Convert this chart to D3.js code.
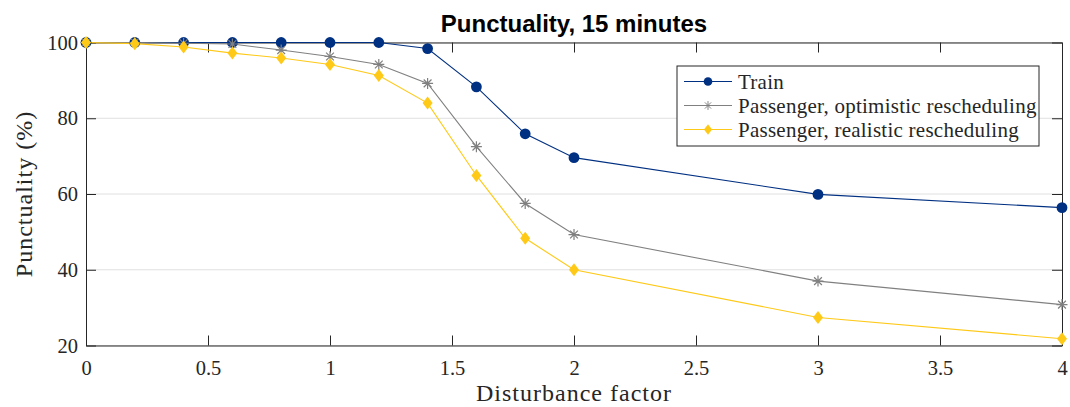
<!DOCTYPE html>
<html>
<head>
<meta charset="utf-8">
<script src="https://cdn.jsdelivr.net/npm/d3@7"></script>
<style>
  body { margin: 0; background: #fff; }
  svg text { fill: #262626; }
</style>
</head>
<body>
<div id="output"></div>
<script>
// Disturbance factors on the x axis
const factors = [0, 0.2, 0.4, 0.6, 0.8, 1.0, 1.2, 1.4, 1.6, 1.8, 2.0, 3.0, 4.0];

// Punctuality (%) per series
const trainValues = [100, 100, 100, 100, 100, 100, 100, 98.4, 88.3, 75.9, 69.6, 59.9, 56.4];
const optimisticValues = [100, 100, 99.8, 99.6, 98.0, 96.3, 94.2, 89.2, 72.5, 57.5, 49.3, 37.0, 30.8];
const realisticValues = [100, 99.7, 98.8, 97.2, 95.9, 94.2, 91.3, 84.0, 64.9, 48.3, 40.0, 27.4, 21.8];

const seriesNames = ["Train", "Passenger, optimistic rescheduling", "Passenger, realistic rescheduling"];

const xTicks = [0, 0.5, 1, 1.5, 2, 2.5, 3, 3.5, 4];
const yTicks = [20, 40, 60, 80, 100];

function PlotGraph(parent_element = "output") {
  const W = 1070, H = 407;
  const margin = {top: 42.5, right: 8, bottom: 61.5, left: 86};
  const width = W - margin.left - margin.right;
  const height = H - margin.top - margin.bottom;

  const x = d3.scaleLinear().domain([0, 4]).range([0, width]);
  const y = d3.scaleLinear().domain([20, 100]).range([height, 0]);

  const series = [
    {name: seriesNames[0], values: trainValues, color: "#003082", marker: "circle"},
    {name: seriesNames[1], values: optimisticValues, color: "#808080", marker: "asterisk"},
    {name: seriesNames[2], values: realisticValues, color: "#FFC917", marker: "diamond"}
  ];

  const svg = d3.select("#" + parent_element).append("svg")
    .attr("width", W)
    .attr("height", H);

  const g = svg.append("g")
    .attr("transform", `translate(${margin.left},${margin.top})`);

  // Horizontal grid lines
  g.append("g")
    .selectAll("line")
    .data(yTicks)
    .enter().append("line")
    .attr("x1", 0).attr("x2", width)
    .attr("y1", d => y(d)).attr("y2", d => y(d))
    .attr("stroke", "#e0e0e0")
    .attr("stroke-width", 1);

  const axisColor = "#262626";
  const serif = "Liberation Serif, DejaVu Serif, serif";

  // Bottom axis (ticks inside)
  const xAxis = g.append("g")
    .attr("transform", `translate(0,${height})`)
    .call(d3.axisBottom(x).tickValues(xTicks).tickSizeInner(-10).tickSizeOuter(0).tickPadding(15)
      .tickFormat(d3.format("~g")));
  // Left axis
  const yAxis = g.append("g")
    .call(d3.axisLeft(y).tickValues(yTicks).tickSizeInner(-10).tickSizeOuter(0).tickPadding(8));
  // Top axis
  const topAxis = g.append("g")
    .call(d3.axisTop(x).tickValues(xTicks).tickSizeInner(-10).tickSizeOuter(0).tickFormat(""));
  // Right axis
  const rightAxis = g.append("g")
    .attr("transform", `translate(${width},0)`)
    .call(d3.axisRight(y).tickValues(yTicks).tickSizeInner(-10).tickSizeOuter(0).tickFormat(""));

  [xAxis, yAxis, topAxis, rightAxis].forEach(a => {
    a.selectAll("path, line").attr("stroke", axisColor).attr("stroke-width", 1);
    a.selectAll("text")
      .style("font-family", serif)
      .style("font-size", "20.5px")
      .attr("fill", axisColor);
  });

  // Lines and markers
  const line = d3.line()
    .x((d, i) => x(factors[i]))
    .y(d => y(d));

  series.forEach(s => {
    g.append("path")
      .datum(s.values)
      .attr("d", line)
      .attr("fill", "none")
      .attr("stroke", s.color)
      .attr("stroke-width", 1.1);
  });

  function drawMarker(sel, type, color) {
    if (type === "circle") {
      sel.append("circle").attr("r", 5.4).attr("fill", color);
    } else if (type === "diamond") {
      sel.append("path").attr("d", "M0,-6.5L5,0L0,6.5L-5,0Z").attr("fill", color);
    } else {
      const r = 5.5;
      const d = [0, 45, 90, 135].map(a => {
        const rad = a * Math.PI / 180;
        return `M${-r * Math.cos(rad)},${-r * Math.sin(rad)}L${r * Math.cos(rad)},${r * Math.sin(rad)}`;
      }).join("");
      sel.append("path").attr("d", d).attr("stroke", color).attr("stroke-width", 1.2).attr("fill", "none");
    }
  }

  series.forEach(s => {
    s.values.forEach((v, i) => {
      const m = g.append("g").attr("transform", `translate(${x(factors[i])},${y(v)})`);
      drawMarker(m, s.marker, s.color);
    });
  });

  // Title
  svg.append("text")
    .attr("x", margin.left + width / 2)
    .attr("y", 32)
    .attr("text-anchor", "middle")
    .style("font-family", "Liberation Sans, Arial, sans-serif")
    .style("font-weight", "bold")
    .style("font-size", "24px")
    .style("fill", "#000")
    .text("Punctuality, 15 minutes");

  // X axis label
  svg.append("text")
    .attr("x", margin.left + width / 2)
    .attr("y", 401)
    .attr("text-anchor", "middle")
    .style("font-family", serif)
    .style("font-size", "24px")
    .style("letter-spacing", "1px")
    .text("Disturbance factor");

  // Y axis label
  svg.append("text")
    .attr("transform", `translate(32,${margin.top + height / 2}) rotate(-90)`)
    .attr("text-anchor", "middle")
    .style("font-family", serif)
    .style("font-size", "24px")
    .style("letter-spacing", "1px")
    .text("Punctuality (%)");

  // Legend
  const lx = 677, ly = 66, lw = 362, lh = 80;
  const legend = svg.append("g");
  legend.append("rect")
    .attr("x", lx).attr("y", ly).attr("width", lw).attr("height", lh)
    .attr("fill", "#fff").attr("stroke", "#262626").attr("stroke-width", 1);

  series.forEach((s, i) => {
    const cy = ly + 15.5 + i * 24;
    const item = legend.append("g");
    item.append("line")
      .attr("x1", lx + 7).attr("x2", lx + 55)
      .attr("y1", cy).attr("y2", cy)
      .attr("stroke", s.color).attr("stroke-width", 1.1);
    const m = item.append("g");
    drawMarker(m, s.marker, s.color);
    m.attr("transform", `translate(${lx + 31},${cy}) scale(0.8)`);
    item.append("text")
      .attr("x", lx + 61).attr("y", cy)
      .attr("dy", "0.35em")
      .style("font-family", serif)
      .style("font-size", "21px")
      .style("letter-spacing", "0.25px")
      .text(s.name);
  });
}

document.addEventListener('DOMContentLoaded', () => {
  PlotGraph();
});
</script>
</body>
</html>
